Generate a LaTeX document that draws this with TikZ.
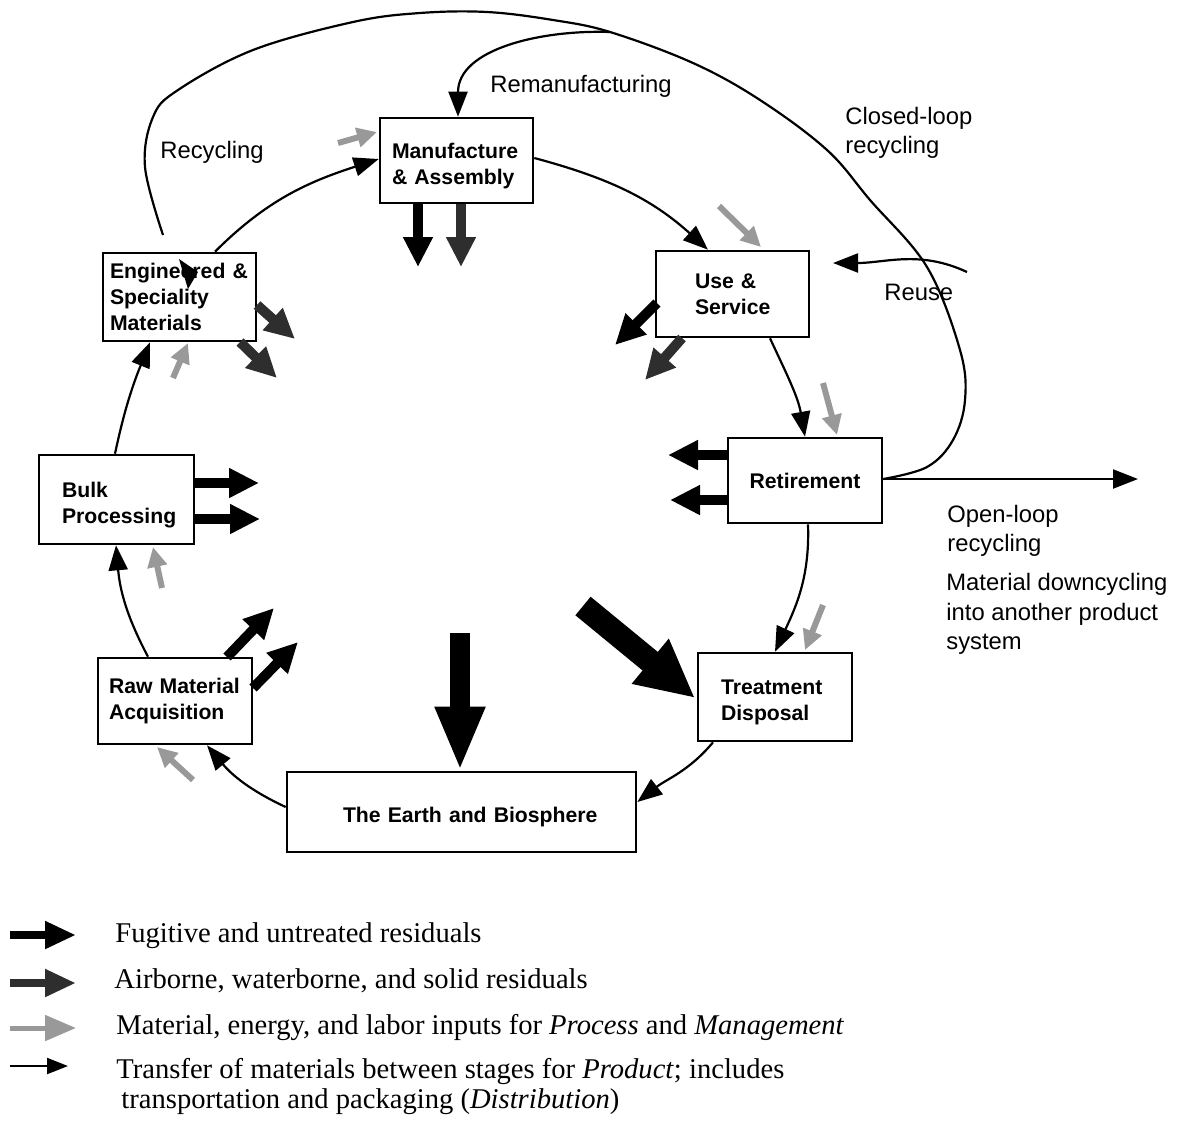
\documentclass[tikz,border=0pt]{standalone}
\usepackage{fontspec}
\setmainfont{Liberation Serif}
\setsansfont{Liberation Sans}
\usetikzlibrary{arrows.meta}
\newcommand{\dropstrut}{\rule{0pt}{13pt}}
\begin{document}
\begin{tikzpicture}[x=0.5pt, y=-0.5pt,
  box/.style={draw, line width=1.3pt, font=\sffamily\bfseries\fontsize{10.6}{13}\selectfont, align=left, inner ysep=0pt},
  lbl/.style={font=\sffamily\fontsize{11.9}{14.7}\selectfont, inner sep=0pt, anchor=west, align=left},
  flow/.style={line width=1.1pt, -{Triangle[length=12.5pt,width=9.5pt]}},
  loopline/.style={line width=1.1pt},
  fug/.style={line width=5pt, black, -{Triangle[length=15pt,width=14pt]}},
  air/.style={line width=5pt, black!82, -{Triangle[length=15pt,width=14pt]}},
  inp/.style={line width=3pt, black!40, -{Triangle[length=10pt,width=9.5pt]}},
  leg/.style={font=\fontsize{14.3}{14}\selectfont, inner sep=0pt, anchor=base west}
]
\useasboundingbox (0,0) rectangle (1181,1121);

% ---------- boxes ----------
\node[box, minimum width=76.5pt, minimum height=42.5pt, text width=64.5pt, inner xsep=6pt] (man) at (456.5,160.5) {\dropstrut Manufacture\\\& Assembly};
\node[box, minimum width=76.5pt, minimum height=44pt, text width=69.5pt, inner xsep=3.5pt] (eng) at (179.5,297) {Engineered \&\\Speciality\\Materials};
\node[box, minimum width=76.5pt, minimum height=43pt, text width=37.5pt, inner xsep=19.5pt] (use) at (732.5,294) {Use \&\\Service};
\node[box, minimum width=77.5pt, minimum height=44.5pt, text width=54.5pt, inner xsep=11.5pt] (bulk) at (116.5,499.5) {\dropstrut Bulk\\Processing};
\node[box, minimum width=77pt, minimum height=42.5pt, align=center] (ret) at (805,480.5) {Retirement};
\node[box, minimum width=77pt, minimum height=43pt, text width=66pt, inner xsep=5.5pt] (raw) at (175,701) {Raw Material\\Acquisition};
\node[box, minimum width=77pt, minimum height=44pt, text width=54pt, inner xsep=11.5pt] (treat) at (775,697) {\dropstrut Treatment\\Disposal};
\node[box, minimum width=174.5pt, minimum height=40pt, text width=118.5pt, inner xsep=28pt] (earth) at (461.5,812) {\dropstrut\mbox{The Earth and Biosphere}};

% ---------- product flow around the cycle ----------
\draw[flow] (earth.west |- 0,807) to[out=155,in=-50] (raw.south -| 207,0);
\draw[flow] (raw.north -| 148,0) to[out=118,in=-85] (bulk.south -| 116,0);
\draw[flow] (bulk.north -| 115,0) to[out=78,in=-112] (eng.south -| 150,0);
\draw[flow] (eng.north -| 215,0) to[out=45,in=-162] (man.west |- 0,159);
\draw[flow] (man.east |- 0,158) to[out=-15,in=138] (use.north -| 708,0);
\draw[flow] (use.south -| 770,0) to[out=-65,in=100] (ret.north -| 805,0);
\draw[flow] (ret.south -| 808,0) to[out=-88,in=65] (treat.north -| 775,0);
\draw[flow] (treat.south -| 713,0) to[out=-130,in=38] (earth.east |- 0,802);

% ---------- recycling loops ----------
\coordinate (junc) at (610,32);
\coordinate (recEnd) at (163,235);
\draw[loopline] plot[smooth, tension=0.6] coordinates {(ret.east |- 0,479) (927,467) (953,440) (965,400) (960,350) (927,267) (870,200) (827,150) (760,100) (693,63) (junc) (553,20) (487,12) (420,13) (353,22) (253,50) (178,90) (153,117) (145,167) (recEnd)};
\fill (179,259) -- (198,272) -- (188,289) -- cycle;
\draw[flow] (junc) to[out=178,in=90] (man.north -| 458,0);
\coordinate (reuseStart) at (967,272);
\coordinate (reuseEnd) at (833,263);
\draw[flow] (reuseStart) to[out=155,in=0] (reuseEnd);
\coordinate (openEnd) at (1138,479);
\draw[flow] (ret.east |- 0,479) -- (openEnd);

% ---------- labels ----------
\node[lbl] (lrec) at (160,152) {Recycling};
\node[lbl] (lreman) at (490,86) {Remanufacturing};
\node[lbl] (lclosed) at (845,133) {Closed-loop\\recycling};
\node[lbl] (lreuse) at (884,292) {Reuse};
\node[lbl] (lopen) at (947,531) {Open-loop\\recycling};
\node[lbl] (ldown) at (946,614) {Material downcycling\\into another product\\system};

% ---------- residual arrows ----------
\coordinate (m1) at (418,267); \coordinate (m2) at (461,267);
\draw[fug] (man.south -| 418,0) -- (m1);
\draw[air] (man.south -| 461,0) -- (m2);
\coordinate (e1s) at (257,305); \coordinate (e1) at (295,339);
\coordinate (e2s) at (240,342); \coordinate (e2) at (277,378);
\draw[air] (e1s) -- (e1);
\draw[air] (e2s) -- (e2);
\coordinate (u1s) at (657,303); \coordinate (u1) at (615,345);
\coordinate (u2s) at (682,338); \coordinate (u2) at (645,380);
\draw[fug] (u1s) -- (u1);
\draw[air] (u2s) -- (u2);
\coordinate (r1) at (668,455); \coordinate (r2) at (670,500);
\draw[fug] (ret.west |- 0,455) -- (r1);
\draw[fug] (ret.west |- 0,500) -- (r2);
\coordinate (b1) at (259,483); \coordinate (b2) at (260,519);
\draw[fug] (bulk.east |- 0,483) -- (b1);
\draw[fug] (bulk.east |- 0,519) -- (b2);
\coordinate (a1s) at (227,657); \coordinate (a1) at (274,608);
\coordinate (a2s) at (253,688); \coordinate (a2) at (298,642);
\draw[fug] (a1s) -- (a1);
\draw[fug] (a2s) -- (a2);
\coordinate (bigS) at (460,633);
\draw[line width=10pt, -{Triangle[length=32pt,width=23pt]}] (bigS) -- (earth.north -| 460,0);
\coordinate (diagS) at (583,606); \coordinate (diagE) at (695,698);
\draw[line width=12pt, -{Triangle[length=29pt,width=27pt]}] (diagS) -- (diagE);

% ---------- input arrows ----------
\coordinate (g1s) at (338,143); \coordinate (g1) at (377,132);
\coordinate (g2s) at (719,206); \coordinate (g2) at (761,247);
\coordinate (g3s) at (173,378); \coordinate (g3) at (188,343);
\coordinate (g4s) at (823,383); \coordinate (g4) at (837,435);
\coordinate (g5s) at (162,588); \coordinate (g5) at (153,547);
\coordinate (g6s) at (193,780); \coordinate (g6) at (157,747);
\coordinate (g7s) at (823,605); \coordinate (g7) at (805,650);
\foreach \s/\e in {g1s/g1,g2s/g2,g3s/g3,g4s/g4,g5s/g5,g6s/g6,g7s/g7}
  \draw[inp] (\s) -- (\e);

% ---------- legend ----------
\coordinate (la1) at (10,935); \coordinate (lb1) at (76,935);
\coordinate (la2) at (10,983); \coordinate (lb2) at (76,983);
\coordinate (la3) at (10,1028); \coordinate (lb3) at (76,1028);
\coordinate (la4) at (10,1066); \coordinate (lb4) at (68,1066);
\draw[line width=4pt, -{Triangle[length=15.5pt,width=13pt]}] (la1) -- (lb1);
\draw[line width=4pt, black!82, -{Triangle[length=15.5pt,width=13pt]}] (la2) -- (lb2);
\draw[line width=2.5pt, black!40, -{Triangle[length=15.5pt,width=12.5pt]}] (la3) -- (lb3);
\draw[line width=1.1pt, -{Triangle[length=10.5pt,width=8pt]}] (la4) -- (lb4);
\node[leg] (t1) at (115,942) {Fugitive and untreated residuals};
\node[leg] (t2) at (114,988) {Airborne, waterborne, and solid residuals};
\node[leg] (t3) at (116,1034) {Material, energy, and labor inputs for \textit{Process} and \textit{Management}};
\node[leg] (t4) at (116,1078) {Transfer of materials between stages for \textit{Product}; includes};
\node[leg] (t5) at (121,1108) {transportation and packaging (\textit{Distribution})};
\end{tikzpicture}
\end{document}
